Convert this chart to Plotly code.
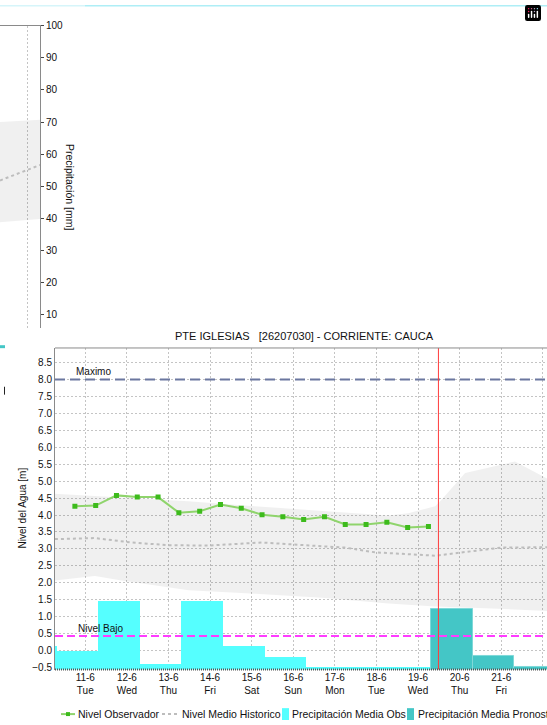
import plotly.graph_objects as go

# ---------------- data ----------------
# bottom chart (level in m)
obs_days = [10.75, 11.25, 11.75, 12.25, 12.75, 13.25, 13.75, 14.25, 14.75,
            15.25, 15.75, 16.25, 16.75, 17.25, 17.75, 18.25, 18.75, 19.25]
obs_level = [4.26, 4.28, 4.58, 4.53, 4.53, 4.07, 4.11, 4.31, 4.20,
             4.01, 3.95, 3.87, 3.95, 3.72, 3.72, 3.79, 3.63, 3.66]

hist_mean_days = [10.27, 11.23, 12.12, 13.0, 13.96, 15.24, 16.68, 17.24, 17.96, 19.41, 21.01, 22.1]
hist_mean = [3.29, 3.32, 3.19, 3.11, 3.10, 3.19, 3.08, 3.04, 2.90, 2.80, 3.04, 3.05]

band_up_days = [10.27, 11.23, 13.48, 15.08, 16.68, 18.28, 18.76, 19.41, 19.57, 20.13, 21.33, 22.1]
band_up = [4.63, 4.57, 4.41, 4.26, 4.12, 3.99, 4.05, 4.26, 4.46, 5.24, 5.58, 5.08]
band_lo_days = [10.27, 11.23, 11.87, 13.48, 15.08, 16.68, 18.28, 19.41, 20.6, 22.1]
band_lo = [2.07, 2.20, 2.07, 1.78, 1.68, 1.56, 1.39, 1.30, 1.25, 1.17]

precip_obs_days = [10, 11, 12, 13, 14, 15, 16, 17, 18, 19]
precip_obs_top = [0.15, 0.0, 1.46, -0.38, 1.46, 0.15, -0.18, -0.48, -0.48, -0.48]
precip_pro_days = [20, 21, 22]
precip_pro_top = [1.23, -0.15, -0.47]

nivel_maximo = 8.0
nivel_bajo = 0.43
fecha_actual = 19.49

tick_days = [11, 12, 13, 14, 15, 16, 17, 18, 19, 20, 21, 22]
tick_dates = ["11-6", "12-6", "13-6", "14-6", "15-6", "16-6", "17-6", "18-6", "19-6", "20-6", "21-6", "22-6"]
tick_weekdays = ["Tue", "Wed", "Thu", "Fri", "Sat", "Sun", "Mon", "Tue", "Wed", "Thu", "Fri", "Sat"]

# top (partially visible) chart, precipitation in mm
top_days = [21.33, 22.29]
top_band_up = [70.0, 70.7]
top_band_lo = [38.8, 39.8]
top_mean = [51.8, 56.6]

# ---------------- geometry helpers ----------------
W, H = 547, 725
def px(x):
    return x / W
def py(y):
    return 1 - y / H

Y2_MIN, Y2_MAX = -0.56, 8.93
FONT = "Liberation Sans, Arial, sans-serif"
GRID = "#c4c4c4"

fig = go.Figure()

# ---- top chart traces ----
fig.add_trace(go.Scatter(x=top_days, y=top_band_lo, xaxis="x", yaxis="y", mode="lines",
                         line=dict(width=0), showlegend=False, hoverinfo="skip"))
fig.add_trace(go.Scatter(x=top_days, y=top_band_up, xaxis="x", yaxis="y", mode="lines",
                         line=dict(width=0), fill="tonexty", fillcolor="rgba(0,0,0,0.06)",
                         showlegend=False, hoverinfo="skip"))
fig.add_trace(go.Scatter(x=top_days, y=top_mean, xaxis="x", yaxis="y", mode="lines",
                         line=dict(color="#bdbdbd", width=2, dash="3px,3px"), showlegend=False))

# ---- bottom chart traces ----
fig.add_trace(go.Scatter(x=band_lo_days, y=band_lo, xaxis="x2", yaxis="y2", mode="lines",
                         line=dict(width=0), showlegend=False, hoverinfo="skip"))
fig.add_trace(go.Scatter(x=band_up_days, y=band_up, xaxis="x2", yaxis="y2", mode="lines",
                         line=dict(width=0), fill="tonexty", fillcolor="rgba(0,0,0,0.06)",
                         showlegend=False, hoverinfo="skip"))
fig.add_trace(go.Bar(x=precip_obs_days, y=[t - Y2_MIN for t in precip_obs_top], base=Y2_MIN,
                     width=1.0, offset=-0.69, xaxis="x2", yaxis="y2",
                     marker=dict(color="#55ffff", line=dict(width=0)),
                     name="Precipitación Media Obs", showlegend=False))
fig.add_trace(go.Bar(x=precip_pro_days, y=[t - Y2_MIN for t in precip_pro_top], base=Y2_MIN,
                     width=1.0, offset=-0.69, xaxis="x2", yaxis="y2",
                     marker=dict(color="#44c6c6", line=dict(width=1, color="#7fd8d8")),
                     name="Precipitación Media Pronosticada", showlegend=False))
fig.add_trace(go.Scatter(x=hist_mean_days, y=hist_mean, xaxis="x2", yaxis="y2", mode="lines",
                         line=dict(color="#bdbdbd", width=2, dash="3px,3px"),
                         name="Nivel Medio Historico", showlegend=False))
fig.add_trace(go.Scatter(x=obs_days, y=obs_level, xaxis="x2", yaxis="y2", mode="lines+markers",
                         line=dict(color="#8fd46c", width=2),
                         marker=dict(color="#3dbb1c", size=5, symbol="square"),
                         name="Nivel Observador", showlegend=False))

shapes = []
annotations = []

# reference lines
shapes.append(dict(type="line", xref="x2 domain", yref="y2", x0=0, x1=1, y0=nivel_maximo, y1=nivel_maximo,
                   line=dict(color="#6b779f", width=2, dash="10px,5px"), layer="above"))
shapes.append(dict(type="line", xref="x2 domain", yref="y2", x0=0, x1=1, y0=nivel_bajo, y1=nivel_bajo,
                   line=dict(color="#ff3cff", width=2, dash="8px,4px"), layer="above"))
shapes.append(dict(type="line", xref="x2", yref="y2", x0=fecha_actual, x1=fecha_actual, y0=Y2_MIN, y1=Y2_MAX,
                   line=dict(color="#ff3b3b", width=1), layer="above"))
# bottom chart frame: top solid, bottom dotted
shapes.append(dict(type="line", xref="x2 domain", yref="y2 domain", x0=0, x1=1, y0=1, y1=1,
                   line=dict(color="#8a8a8a", width=1), layer="above"))
shapes.append(dict(type="line", xref="x2 domain", yref="y2 domain", x0=0, x1=1, y0=0, y1=0,
                   line=dict(color="#555555", width=2, dash="1px,1px"), layer="above"))

annotations.append(dict(x=10.72, y=nivel_maximo, xref="x2", yref="y2", text="Maximo", showarrow=False,
                        xanchor="left", yanchor="bottom", font=dict(size=10, color="#111", family=FONT)))
annotations.append(dict(x=10.77, y=nivel_bajo, xref="x2", yref="y2", text="Nivel Bajo", showarrow=False,
                        xanchor="left", yanchor="bottom", font=dict(size=10, color="#111", family=FONT)))

# title of bottom chart
annotations.append(dict(x=px(305), y=py(335), xref="paper", yref="paper",
                        text="PTE IGLESIAS\u00a0\u00a0\u00a0[26207030] - CORRIENTE: CAUCA",
                        showarrow=False, xanchor="center", yanchor="middle",
                        font=dict(size=11, color="#111", family=FONT)))
# axis titles
annotations.append(dict(x=px(22), y=py(509), xref="paper", yref="paper", text="Nivel del Agua [m]",
                        showarrow=False, textangle=-90, xanchor="center", yanchor="middle",
                        font=dict(size=10, color="#111", family=FONT)))
annotations.append(dict(x=px(70), y=py(184), xref="paper", yref="paper", text="Precipitación [mm]",
                        showarrow=False, textangle=90, xanchor="center", yanchor="middle",
                        font=dict(size=10.5, color="#111", family=FONT)))

# top edge strip
shapes.append(dict(type="rect", xref="paper", yref="paper", x0=0, x1=px(85), y0=py(1.5), y1=1,
                   fillcolor="#d6f5fa", line=dict(width=0)))
shapes.append(dict(type="rect", xref="paper", yref="paper", x0=px(85), x1=1, y0=py(1.5), y1=1,
                   fillcolor="#aeeef6", line=dict(width=0)))
# remnants of the neighbouring chart
shapes.append(dict(type="rect", xref="paper", yref="paper", x0=0, x1=px(5), y0=py(347), y1=py(344),
                   fillcolor="#44c6c6", line=dict(width=0)))
shapes.append(dict(type="line", xref="paper", yref="paper", x0=px(4.5), x1=px(4.5), y0=py(394), y1=py(386),
                   line=dict(color="#222", width=1)))

# manual legend
LY = 717
shapes.append(dict(type="line", xref="paper", yref="paper", x0=px(61), x1=px(75), y0=py(LY), y1=py(LY),
                   line=dict(color="#8fd46c", width=2)))
shapes.append(dict(type="rect", xref="paper", yref="paper", x0=px(66), x1=px(70), y0=py(LY + 2), y1=py(LY - 2),
                   fillcolor="#3dbb1c", line=dict(width=0)))
shapes.append(dict(type="line", xref="paper", yref="paper", x0=px(162), x1=px(177), y0=py(LY), y1=py(LY),
                   line=dict(color="#bdbdbd", width=2, dash="3px,3px")))
shapes.append(dict(type="rect", xref="paper", yref="paper", x0=px(282), x1=px(289), y0=py(LY + 6), y1=py(LY - 6),
                   fillcolor="#55ffff", line=dict(width=0)))
shapes.append(dict(type="rect", xref="paper", yref="paper", x0=px(407), x1=px(414), y0=py(LY + 6), y1=py(LY - 6),
                   fillcolor="#44c6c6", line=dict(width=0)))
for lx, txt in [(77, "Nivel Observador"), (181, "Nivel Medio Historico"),
                (291, "Precipitación Media Obs"), (417, "Precipitación Media Pronosticada")]:
    annotations.append(dict(x=px(lx), y=py(LY), xref="paper", yref="paper", text=txt, showarrow=False,
                            xanchor="left", yanchor="middle", borderpad=0,
                            font=dict(size=10.5, color="#111", family=FONT)))

fig.update_layout(
    width=W, height=H,
    margin=dict(l=0, r=0, t=0, b=0),
    paper_bgcolor="white", plot_bgcolor="white",
    showlegend=False,
    bargap=0,
    font=dict(family=FONT, size=10, color="#111"),
    modebar=dict(bgcolor="rgba(0,0,0,0)", color="rgba(0,0,0,0)", activecolor="rgba(0,0,0,0)"),
    # top chart
    xaxis=dict(domain=[0, px(40)], anchor="y", range=[21.33, 22.29], side="top",
               showline=True, linecolor="#8a8a8a", linewidth=1,
               tickvals=[22], showticklabels=False, ticks="",
               showgrid=True, gridcolor=GRID, griddash="2px,2px", zeroline=False, fixedrange=True),
    yaxis=dict(domain=[py(327), py(21)], anchor="x", side="right", range=[5.7, 100],
               tick0=0, dtick=10, ticks="outside", ticklen=3, tickcolor="#444",
               showline=True, linecolor="#8a8a8a", linewidth=1,
               showgrid=False, zeroline=False, tickfont=dict(size=10, color="#111")),
    yaxis4=dict(overlaying="y", anchor="x", range=[5.7, 100], tick0=0, dtick=30,
                showticklabels=False, ticks="", showline=False,
                showgrid=True, gridcolor=GRID, griddash="2px,2px", zeroline=False),
    # bottom chart
    xaxis2=dict(domain=[px(55), 1], anchor="y2", range=[10.272, 22.10],
                tickvals=tick_days,
                ticktext=[f"{d}<br>{w}" for d, w in zip(tick_dates, tick_weekdays)],
                ticks="", showline=False, showgrid=True, gridcolor=GRID, griddash="2px,2px",
                zeroline=False, tickfont=dict(size=10, color="#111")),
    yaxis2=dict(domain=[py(672), py(346.8)], anchor="x2", range=[Y2_MIN, Y2_MAX],
                tick0=0, dtick=0.5, tickformat=".1f", ticks="",
                showline=True, linecolor="#8a8a8a", linewidth=1,
                showgrid=True, gridcolor=GRID, griddash="2px,2px", zeroline=False,
                tickfont=dict(size=10, color="#111")),
    shapes=shapes,
    annotations=annotations,
)

fig.write_html("out.html",
               post_script="document.documentElement.style.margin='0';document.body.style.margin='0';"
                           "document.body.style.overflow='hidden';")
